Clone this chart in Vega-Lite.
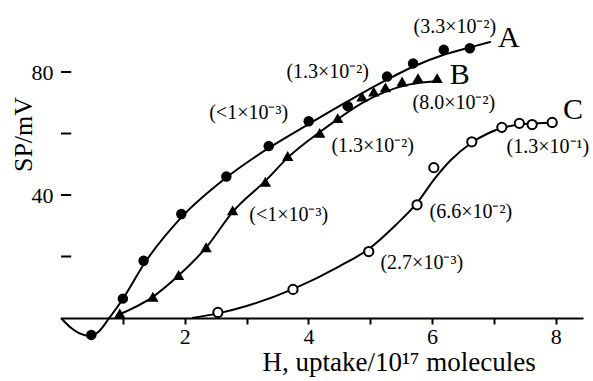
{
  "$schema": "https://vega.github.io/schema/vega-lite/v6.json",
  "width": 522,
  "height": 338.25,
  "autosize": {"type": "none"},
  "padding": {"left": 61, "top": 10.5, "right": 10, "bottom": 32.25},
  "background": "white",
  "config": {"view": {"stroke": null}, "font": "Liberation Serif"},
  "datasets": {
    "curves": [
      {"series": "A", "x": 0, "y": 0},
      {"series": "A", "x": 0.15, "y": -3},
      {"series": "A", "x": 0.3, "y": -5},
      {"series": "A", "x": 0.47, "y": -5.8},
      {"series": "A", "x": 0.62, "y": -4.2},
      {"series": "A", "x": 0.78, "y": 0},
      {"series": "A", "x": 1.0, "y": 6.2},
      {"series": "A", "x": 1.35, "y": 17.8},
      {"series": "A", "x": 1.95, "y": 32.8},
      {"series": "A", "x": 2.67, "y": 45.6},
      {"series": "A", "x": 3.36, "y": 55.3},
      {"series": "A", "x": 4.0, "y": 63},
      {"series": "A", "x": 4.64, "y": 70.5},
      {"series": "A", "x": 5.27, "y": 77.5},
      {"series": "A", "x": 5.7, "y": 81.8},
      {"series": "A", "x": 6.19, "y": 85.6},
      {"series": "A", "x": 6.61, "y": 88},
      {"series": "A", "x": 6.95, "y": 89.8},
      {"series": "B", "x": 0.9, "y": 0.8},
      {"series": "B", "x": 1.48, "y": 6.8},
      {"series": "B", "x": 1.9, "y": 13.8},
      {"series": "B", "x": 2.35, "y": 23},
      {"series": "B", "x": 2.78, "y": 34.6},
      {"series": "B", "x": 3.3, "y": 44.5},
      {"series": "B", "x": 3.68, "y": 52.4},
      {"series": "B", "x": 4.18, "y": 60.4},
      {"series": "B", "x": 4.47, "y": 64.6},
      {"series": "B", "x": 4.86, "y": 69.8},
      {"series": "B", "x": 5.25, "y": 73.6},
      {"series": "B", "x": 5.62, "y": 75.9},
      {"series": "B", "x": 6.06, "y": 77.0},
      {"series": "C", "x": 2.12, "y": 0},
      {"series": "C", "x": 2.54, "y": 1.5},
      {"series": "C", "x": 3.0, "y": 3.9},
      {"series": "C", "x": 3.75, "y": 9.4},
      {"series": "C", "x": 4.5, "y": 16.8},
      {"series": "C", "x": 4.98, "y": 22.5},
      {"series": "C", "x": 5.4, "y": 30.0},
      {"series": "C", "x": 5.76, "y": 37.5},
      {"series": "C", "x": 6.03, "y": 45.0},
      {"series": "C", "x": 6.3, "y": 51.3},
      {"series": "C", "x": 6.64, "y": 57.0},
      {"series": "C", "x": 6.9, "y": 60.0},
      {"series": "C", "x": 7.13, "y": 61.8},
      {"series": "C", "x": 7.45, "y": 63.0},
      {"series": "C", "x": 7.95, "y": 63.5}
    ],
    "points": [
      {"series": "A", "x": 0.49, "y": -5.5},
      {"series": "A", "x": 1.0, "y": 6.3},
      {"series": "A", "x": 1.335, "y": 18.6},
      {"series": "A", "x": 1.945, "y": 33.8},
      {"series": "A", "x": 2.673, "y": 46.0},
      {"series": "A", "x": 3.358, "y": 55.9},
      {"series": "A", "x": 4.005, "y": 64.0},
      {"series": "A", "x": 4.636, "y": 68.9},
      {"series": "A", "x": 5.272, "y": 78.5},
      {"series": "A", "x": 5.693, "y": 82.8},
      {"series": "A", "x": 6.189, "y": 87.2},
      {"series": "A", "x": 6.61, "y": 87.7},
      {"series": "B", "x": 0.95, "y": 1.5},
      {"series": "B", "x": 1.485, "y": 6.9},
      {"series": "B", "x": 1.901, "y": 14.0},
      {"series": "B", "x": 2.346, "y": 23.0},
      {"series": "B", "x": 2.775, "y": 35.0},
      {"series": "B", "x": 3.304, "y": 44.3},
      {"series": "B", "x": 3.665, "y": 52.7},
      {"series": "B", "x": 4.183, "y": 60.2},
      {"series": "B", "x": 4.474, "y": 65.0},
      {"series": "B", "x": 4.867, "y": 72.0},
      {"series": "B", "x": 5.057, "y": 73.6},
      {"series": "B", "x": 5.246, "y": 75.0},
      {"series": "B", "x": 5.515, "y": 76.9},
      {"series": "B", "x": 5.773, "y": 78.0},
      {"series": "B", "x": 6.081, "y": 78.0},
      {"series": "C", "x": 2.537, "y": 1.8},
      {"series": "C", "x": 3.751, "y": 9.3},
      {"series": "C", "x": 4.976, "y": 21.6},
      {"series": "C", "x": 5.757, "y": 36.8},
      {"series": "C", "x": 6.028, "y": 48.9},
      {"series": "C", "x": 6.642, "y": 57.3},
      {"series": "C", "x": 7.128, "y": 62.0},
      {"series": "C", "x": 7.411, "y": 63.3},
      {"series": "C", "x": 7.618, "y": 62.9},
      {"series": "C", "x": 7.942, "y": 63.6}
    ],
    "notes": [
      {"text": "(3.3×10⁻²)", "x": 6.367, "y": 94.6},
      {"text": "(1.3×10⁻²)", "x": 4.312, "y": 80.0},
      {"text": "(8.0×10⁻²)", "x": 6.351, "y": 69.9},
      {"text": "(<1×10⁻³)", "x": 3.034, "y": 66.7},
      {"text": "(1.3×10⁻²)", "x": 5.04, "y": 55.9},
      {"text": "(<1×10⁻³)", "x": 3.681, "y": 33.5},
      {"text": "(6.6×10⁻²)", "x": 6.626, "y": 34.5},
      {"text": "(2.7×10⁻³)", "x": 5.833, "y": 17.9},
      {"text": "(1.3×10⁻¹)", "x": 7.872, "y": 55.6}
    ],
    "names": [
      {"text": "A", "x": 7.24, "y": 91.1},
      {"text": "B", "x": 6.448, "y": 79.0},
      {"text": "C", "x": 8.277, "y": 67.6}
    ],
    "yticks": [{"v": 20}, {"v": 40}, {"v": 60}, {"v": 80}]
  },
  "layer": [
    {
      "data": {"name": "curves"},
      "mark": {"type": "line", "interpolate": "monotone", "color": "black", "strokeWidth": 2},
      "encoding": {
        "x": {
          "field": "x", "type": "quantitative",
          "scale": {"domain": [0, 8.44], "nice": false, "zero": false},
          "axis": {
            "orient": "bottom", "offset": -30.75,
            "values": [1, 2, 3, 4, 5, 6, 7, 8],
            "format": "d",
            "labelExpr": "datum.value % 2 === 0 ? datum.label : ''",
            "grid": false, "domainColor": "black", "domainWidth": 2,
            "tickColor": "black", "tickWidth": 2, "tickSize": 6,
            "labelFontSize": 22, "labelColor": "black", "labelPadding": 2,
            "title": "H, uptake/10¹⁷ molecules", "titleFontSize": 27,
            "titleFontWeight": "normal", "titleColor": "black",
            "titleX": 201, "titleY": 52, "titleAlign": "left", "titleBaseline": "alphabetic"
          }
        },
        "y": {
          "field": "y", "type": "quantitative",
          "scale": {"domain": [-10, 100], "nice": false, "zero": false},
          "axis": {
            "domain": false, "grid": false, "ticks": false,
            "values": [20, 40, 60, 80],
            "labelExpr": "datum.value === 40 || datum.value === 80 ? datum.label : ''",
            "labelFontSize": 22, "labelColor": "black", "labelPadding": 8,
            "title": "SP/mV", "titleFontSize": 26, "titleFontWeight": "normal",
            "titleColor": "black", "titleAngle": -90, "titleAlign": "center",
            "titleBaseline": "middle", "titleX": -38, "titleY": 123.5
          }
        },
        "detail": {"field": "series"}
      }
    },
    {
      "mark": {"type": "rule", "color": "black", "strokeWidth": 2},
      "encoding": {
        "x": {"datum": 0, "type": "quantitative"},
        "y": {"datum": 0, "type": "quantitative"},
        "y2": {"datum": 97}
      }
    },
    {
      "data": {"name": "yticks"},
      "mark": {"type": "rule", "color": "black", "strokeWidth": 2},
      "encoding": {
        "x": {"datum": 0, "type": "quantitative"},
        "x2": {"datum": 0.165},
        "y": {"field": "v", "type": "quantitative"}
      }
    },
    {
      "mark": {"type": "point", "shape": "M-1,-0.9L1,0L-1,0.9Z", "filled": true, "color": "black", "opacity": 1, "size": 144},
      "encoding": {
        "x": {"datum": 8.34, "type": "quantitative"},
        "y": {"datum": 0, "type": "quantitative"}
      }
    },
    {
      "mark": {"type": "point", "shape": "M-0.83,1L0,-1L0.83,1Z", "filled": true, "color": "black", "opacity": 1, "size": 144},
      "encoding": {
        "x": {"datum": 0, "type": "quantitative"},
        "y": {"datum": 97.2, "type": "quantitative"}
      }
    },
    {
      "data": {"name": "points"},
      "transform": [{"filter": "datum.series === 'A'"}],
      "mark": {"type": "point", "shape": "circle", "filled": true, "color": "black", "opacity": 1, "size": 110},
      "encoding": {"x": {"field": "x", "type": "quantitative"}, "y": {"field": "y", "type": "quantitative"}}
    },
    {
      "data": {"name": "points"},
      "transform": [{"filter": "datum.series === 'B'"}],
      "mark": {"type": "point", "shape": "triangle-up", "filled": true, "color": "black", "opacity": 1, "size": 130},
      "encoding": {"x": {"field": "x", "type": "quantitative"}, "y": {"field": "y", "type": "quantitative"}}
    },
    {
      "data": {"name": "points"},
      "transform": [{"filter": "datum.series === 'C'"}],
      "mark": {"type": "point", "shape": "circle", "fill": "white", "stroke": "black", "strokeWidth": 2, "opacity": 1, "size": 85},
      "encoding": {"x": {"field": "x", "type": "quantitative"}, "y": {"field": "y", "type": "quantitative"}}
    },
    {
      "data": {"name": "notes"},
      "mark": {"type": "text", "fontSize": 20, "align": "center", "baseline": "middle", "color": "black"},
      "encoding": {
        "x": {"field": "x", "type": "quantitative"},
        "y": {"field": "y", "type": "quantitative"},
        "text": {"field": "text"}
      }
    },
    {
      "data": {"name": "names"},
      "mark": {"type": "text", "fontSize": 30, "align": "center", "baseline": "middle", "color": "black"},
      "encoding": {
        "x": {"field": "x", "type": "quantitative"},
        "y": {"field": "y", "type": "quantitative"},
        "text": {"field": "text"}
      }
    }
  ]
}
